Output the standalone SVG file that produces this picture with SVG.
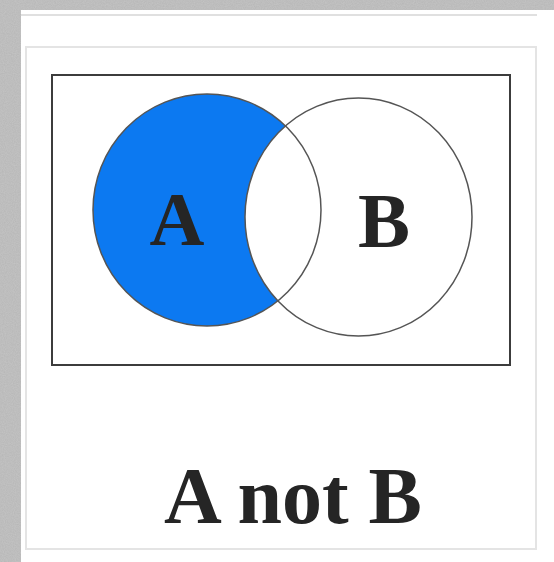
<svg xmlns="http://www.w3.org/2000/svg" width="554" height="562" viewBox="0 0 554 562">
  <defs>
    <filter id="noise" x="0" y="0" width="100%" height="100%">
      <feTurbulence type="fractalNoise" baseFrequency="0.9" numOctaves="2" seed="3" result="t"/>
      <feColorMatrix in="t" type="matrix" values="0 0 0 0 0.62  0 0 0 0 0.62  0 0 0 0 0.62  0 0 0 0.6 0"/>
    </filter>
    <mask id="notB">
      <rect x="0" y="0" width="554" height="562" fill="#fff"/>
      <ellipse cx="358.5" cy="217" rx="113.5" ry="119" fill="#000"/>
    </mask>
  </defs>
  <style>
    .lbl { font-family: "Liberation Serif", "Times New Roman", serif; font-weight: bold; fill: #252525; }
    .faint { fill: none; stroke: #e4e4e4; stroke-width: 2; }
    .ring { fill: none; stroke: #555; stroke-width: 1.5; }
  </style>

  <!-- background -->
  <rect x="0" y="0" width="554" height="562" fill="#b6b6b6"/>
  <rect x="0" y="0" width="554" height="562" filter="url(#noise)"/>

  <!-- card -->
  <g id="card">
    <rect x="21" y="10" width="533" height="552" fill="#ffffff"/>
    <line x1="21" y1="15" x2="537" y2="15" stroke="#e0e0e0" stroke-width="2"/>
    <rect class="faint" x="26" y="47" width="510" height="502"/>
  </g>

  <!-- universe frame -->
  <g id="universe">
    <rect x="52" y="75" width="458" height="290" fill="#ffffff" stroke="#3c3c3c" stroke-width="2"/>
  </g>

  <!-- set A (A not B shaded) -->
  <g id="setA">
    <ellipse cx="207" cy="210" rx="114" ry="116" fill="#0c79f1" mask="url(#notB)"/>
    <ellipse class="ring" cx="207" cy="210" rx="114" ry="116" stroke="#2a2a2a"/>
    <text class="lbl" x="177" y="245" font-size="76" text-anchor="middle">A</text>
  </g>

  <!-- set B -->
  <g id="setB">
    <ellipse class="ring" cx="358.5" cy="217" rx="113.5" ry="119"/>
    <text class="lbl" x="384" y="247" font-size="78" text-anchor="middle">B</text>
  </g>

  <!-- caption -->
  <g id="caption">
    <text class="lbl" x="293" y="523" font-size="80" text-anchor="middle">A not B</text>
  </g>
</svg>
